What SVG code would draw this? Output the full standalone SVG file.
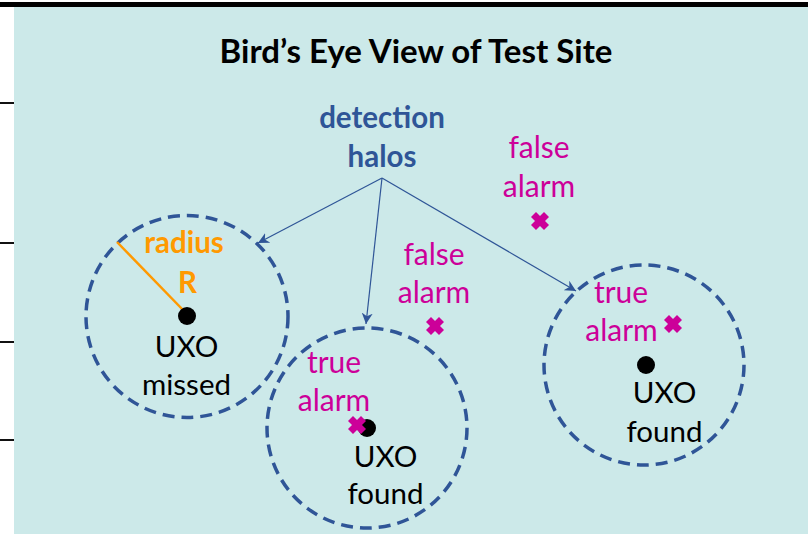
<svg xmlns="http://www.w3.org/2000/svg" width="808" height="534" viewBox="0 0 808 534">
<style>
.t{font-family:Lato,"Open Sans","Liberation Sans",sans-serif;text-anchor:middle}
.title{font-size:33px;font-weight:bold;fill:#000}
.blue{font-size:29.5px;font-weight:bold;fill:#2F5597}
.or{font-size:29.5px;font-weight:bold;fill:#FF9900}
.pk{font-size:30px;fill:#CC0099}
.bk{font-size:29.5px;fill:#000}
.halo{fill:none;stroke:#2F5597;stroke-width:3.5;stroke-dasharray:12 7}
.ptr{fill:none;stroke:#2F5597;stroke-width:1.2}
.x{stroke:#CC0099;stroke-width:7}
</style>
<defs>
<marker id="ah" viewBox="0 0 10 10" refX="10" refY="5" markerWidth="11" markerHeight="11" markerUnits="userSpaceOnUse" orient="auto">
<path d="M0,0 L10,5 L0,10 L3,5 Z" fill="#2F5597"/>
</marker>
<g id="xm"><line class="x" x1="-6.5" y1="-6.5" x2="6.5" y2="6.5"/><line class="x" x1="-6.5" y1="6.5" x2="6.5" y2="-6.5"/></g>
</defs>
<rect x="0" y="0" width="808" height="534" fill="#fff"/>
<rect x="14" y="6" width="794" height="528" fill="#CCE9E9"/>
<rect x="0" y="2" width="808" height="5" fill="#000"/>
<g id="ticks" stroke="#111" stroke-width="2">
<line x1="0" y1="103" x2="14" y2="103"/>
<line x1="0" y1="243" x2="14" y2="243"/>
<line x1="0" y1="342" x2="14" y2="342"/>
<line x1="0" y1="440" x2="14" y2="440"/>
</g>
<g id="title"><text class="t title" x="416" y="63">Bird’s Eye View of Test Site</text></g>
<g id="halos-label"><text class="t blue" x="382" y="128">detection</text><text class="t blue" x="382" y="167">halos</text></g>
<g id="halo-left">
<circle class="halo" cx="187" cy="316.5" r="101"/>
<line x1="117" y1="242" x2="184" y2="311" stroke="#FF9900" stroke-width="2.5"/>
<circle cx="187" cy="316" r="9" fill="#000"/>
<text class="t or" x="184" y="253">radius</text>
<text class="t or" x="187.5" y="293">R</text>
<text class="t bk" x="186.5" y="357">UXO</text>
<text class="t bk" x="186.5" y="395">missed</text>
</g>
<g id="halo-middle">
<circle class="halo" cx="367" cy="428" r="100"/>
<circle cx="367" cy="428" r="9" fill="#000"/>
<use href="#xm" x="357" y="425"/>
<text class="t pk" x="334" y="373">true</text>
<text class="t pk" x="334" y="411">alarm</text>
<text class="t bk" x="385.5" y="467">UXO</text>
<text class="t bk" x="385.5" y="504">found</text>
</g>
<g id="halo-right">
<circle class="halo" cx="644" cy="365" r="100"/>
<circle cx="646" cy="365" r="9" fill="#000"/>
<use href="#xm" x="673" y="324"/>
<text class="t pk" x="621" y="303">true</text>
<text class="t pk" x="621.5" y="341">alarm</text>
<text class="t bk" x="664.5" y="403">UXO</text>
<text class="t bk" x="664.5" y="442">found</text>
</g>
<g id="false-alarm-1">
<use href="#xm" x="540" y="221"/>
<text class="t pk" x="539" y="158">false</text>
<text class="t pk" x="539" y="197">alarm</text>
</g>
<g id="false-alarm-2">
<use href="#xm" x="435" y="326"/>
<text class="t pk" x="434" y="265">false</text>
<text class="t pk" x="434" y="303">alarm</text>
</g>
<g id="connectors">
<line class="ptr" x1="382" y1="178" x2="258" y2="243" marker-end="url(#ah)"/>
<line class="ptr" x1="382" y1="178" x2="366" y2="324" marker-end="url(#ah)"/>
<line class="ptr" x1="382" y1="178" x2="576" y2="291" marker-end="url(#ah)"/>
</g>
</svg>
